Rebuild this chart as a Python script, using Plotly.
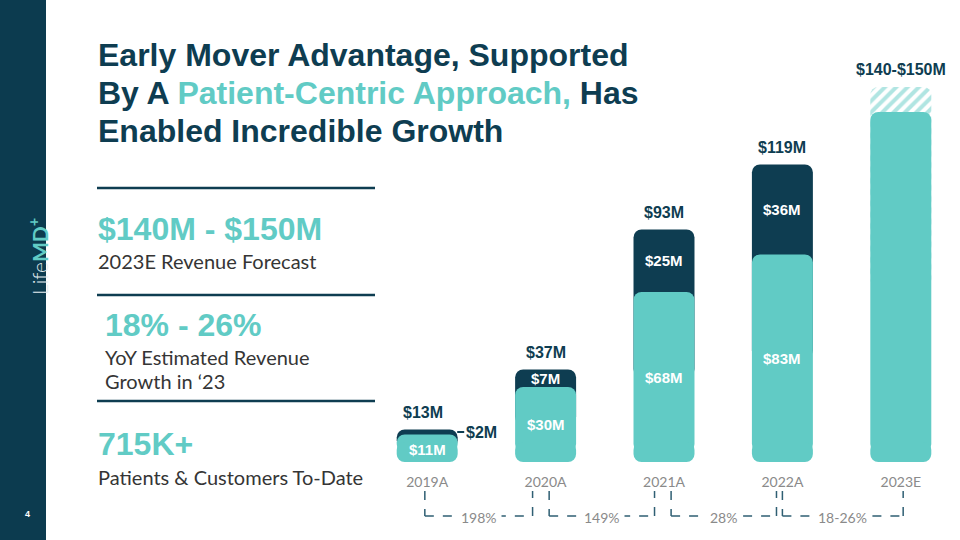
import plotly.graph_objects as go

# ---------------- data ----------------
years = ["2019A", "2020A", "2021A", "2022A", "2023E"]
core_rev = [11, 30, 68, 83, 140]          # teal segment ($M)
added_rev = [2, 7, 25, 36]                # dark segment ($M), 2019-2022
total_labels = ["$13M", "$37M", "$93M", "$119M", "$140-$150M"]
forecast_high = 150                        # top of 2023E range ($M)
growth_labels = ["198%", "149%", "28%", "18-26%"]

TEAL = "#61cbc5"
DARK = "#0e3d51"
GRAY = "#8a8a8a"
TXT = "#353535"
W, H = 960, 540
YMAX = 174          # value axis upper limit
FOOT = 4            # height (in $M) of the rounded foot piece
RAD = 8             # corner radius in px


def px(x):
    return x / W


def py(y):
    return (H - y) / H


fig = go.Figure()
totals = [c + a for c, a in zip(core_rev[:4], added_rev)]

# dark total bars 2019-2022 (bottom hidden inside teal bar)
fig.add_trace(go.Bar(x=years[:4], base=[c / 2 for c in core_rev[:4]],
                     y=[t - c / 2 for t, c in zip(totals, core_rev[:4])],
                     marker=dict(color=DARK, cornerradius=RAD, line=dict(width=0)),
                     hoverinfo="skip"))
# hatched forecast range 2023E
fig.add_trace(go.Bar(x=years[4:], base=[core_rev[4] / 2], y=[forecast_high - core_rev[4] / 2],
                     marker=dict(color="white", cornerradius=RAD, line=dict(width=0),
                                 pattern=dict(shape="/", fgcolor=TEAL, bgcolor="white",
                                              size=8, solidity=0.5)),
                     hoverinfo="skip"))
# teal core bars (top rounded)
fig.add_trace(go.Bar(x=years, base=[FOOT] * 5, y=[c - FOOT for c in core_rev],
                     marker=dict(color=TEAL, cornerradius=RAD, line=dict(width=0)),
                     hoverinfo="skip"))
# teal rounded foot (on reversed twin axis so its rounded end sits on the baseline)
fig.add_trace(go.Bar(x=years, base=[YMAX - 2 * FOOT] * 5, y=[2 * FOOT] * 5, yaxis="y2",
                     marker=dict(color=TEAL, cornerradius=RAD, line=dict(width=0)),
                     hoverinfo="skip"))

ann = []
LAB = "Liberation Sans"
# totals above bars
tops = totals + [forecast_high]
for yr, t, lab in zip(years, tops, total_labels):
    ann.append(dict(x=yr, y=t, text=f"<b>{lab}</b>", showarrow=False, yanchor="bottom",
                    yshift=7, xshift=-4 if yr == "2019A" else 0,
                    font=dict(family=LAB, size=16, color=DARK)))
# teal segment labels
for yr, c in zip(years[:4], core_rev[:4]):
    ann.append(dict(x=yr, y=c / 2, text=f"<b>${c}M</b>", showarrow=False,
                    yshift=-1 if yr == "2019A" else 0,
                    font=dict(family=LAB, size=15, color="white")))
# dark segment labels (inside for 2020-2022)
for yr, c, a in zip(years[1:4], core_rev[1:4], added_rev[1:]):
    ann.append(dict(x=yr, y=c + a / 2, text=f"<b>${a}M</b>", showarrow=False,
                    font=dict(family=LAB, size=15, color="white")))
# 2019 dark segment label outside with connector
ann.append(dict(x=years[0], y=core_rev[0] + added_rev[0] / 2, xshift=30, ax=7, ay=0,
                text=f"<b>${added_rev[0]}M</b>", showarrow=True, arrowhead=0,
                arrowwidth=2, arrowcolor=DARK, xanchor="left",
                font=dict(family=LAB, size=16, color=DARK)))

# growth brackets
shapes = []
y_top, y_bot = py(491), py(516)
offs_l = [-0.02, 0.03, 0.06, 0.0]
offs_r = [-0.11, -0.08, -0.05, 0.02]
for i, g in enumerate(growth_labels):
    xl = i + offs_l[i]
    xr = i + 1 + offs_r[i]
    line = dict(color="#2f5f73", width=1.5, dash="dash")
    for (x0, y0, x1, y1) in [(xl, y_top, xl, y_bot), (xl, y_bot, xr, y_bot), (xr, y_bot, xr, y_top)]:
        shapes.append(dict(type="line", xref="x", yref="paper", x0=x0, x1=x1, y0=y0, y1=y1, line=line))
    ann.append(dict(x=(xl + xr) / 2, xref="x", y=py(517), yref="paper", text=g, showarrow=False,
                    bgcolor="white", borderpad=4, yanchor="middle",
                    font=dict(family="Lato", size=14, color=GRAY)))

# sidebar
shapes.append(dict(type="rect", xref="paper", yref="paper", x0=0, x1=px(46), y0=0, y1=1,
                   fillcolor="#0c3b4f", line=dict(width=0), layer="below"))
ann.append(dict(xref="paper", yref="paper", x=px(22), y=py(257), textangle=-90, showarrow=False,
                text=(f"<span style='color:#e3ecef;font-weight:300'>Life</span>"
                      f"<b><span style='color:{TEAL}'>MD<sup>+</sup></span></b>"),
                font=dict(family="Lato", size=21)))
ann.append(dict(xref="paper", yref="paper", x=px(23), y=py(521), text="<b>4</b>", showarrow=False,
                font=dict(family="Liberation Sans", size=9, color="white")))

# title
title_lines = [
    "<b>Early Mover Advantage, Supported</b>",
    f"<b>By A <span style='color:{TEAL}'>Patient-Centric Approach,</span> Has</b>",
    "<b>Enabled Incredible Growth</b>",
]
for t, yy in zip(title_lines, [55, 93, 131]):
    ann.append(dict(xref="paper", yref="paper", x=px(96), y=py(yy), text=t, showarrow=False,
                    xanchor="left", yanchor="middle",
                    font=dict(family="Liberation Sans", size=32, color=DARK)))

# left stats
stats = [
    ("<b>$140M - $150M</b>", 96, 229, 32, TEAL, "Liberation Sans"),
    ("2023E Revenue Forecast", 96, 261, 20, TXT, "Lato"),
    ("<b>18% - 26%</b>", 103, 325, 32, TEAL, "Liberation Sans"),
    ("YoY Estimated Revenue", 103, 357, 20, TXT, "Lato"),
    ("Growth in ‘23", 103, 381, 20, TXT, "Lato"),
    ("<b>715K+</b>", 96, 444, 32, TEAL, "Liberation Sans"),
    ("Patients & Customers To-Date", 96, 477, 20, TXT, "Lato"),
]
for t, xx, yy, sz, col, fam in stats:
    ann.append(dict(xref="paper", yref="paper", x=px(xx), y=py(yy), text=t, showarrow=False,
                    xanchor="left", yanchor="middle", font=dict(family=fam, size=sz, color=col)))
for yy in [188, 295, 401]:
    shapes.append(dict(type="line", xref="paper", yref="paper", x0=px(97), x1=px(375),
                       y0=py(yy), y1=py(yy), line=dict(color=DARK, width=2.5)))

fig.update_layout(
    width=W, height=H, margin=dict(l=0, r=0, t=0, b=0),
    paper_bgcolor="white", plot_bgcolor="white",
    barmode="overlay", bargap=0.485,
    annotations=ann, shapes=shapes,
    xaxis=dict(domain=[px(368), 1.0], type="category", categoryorder="array", categoryarray=years,
               showgrid=False, zeroline=False, showline=False, ticks="",
               tickfont=dict(family="Lato", size=14, color=GRAY), ticklabelstandoff=10,
               fixedrange=True),
    yaxis=dict(domain=[py(462), py(27)], range=[0, YMAX], visible=False, fixedrange=True),
    yaxis2=dict(overlaying="y", range=[YMAX, 0], visible=False, fixedrange=True),
    showlegend=False,
)

fig.write_html("out.html")
